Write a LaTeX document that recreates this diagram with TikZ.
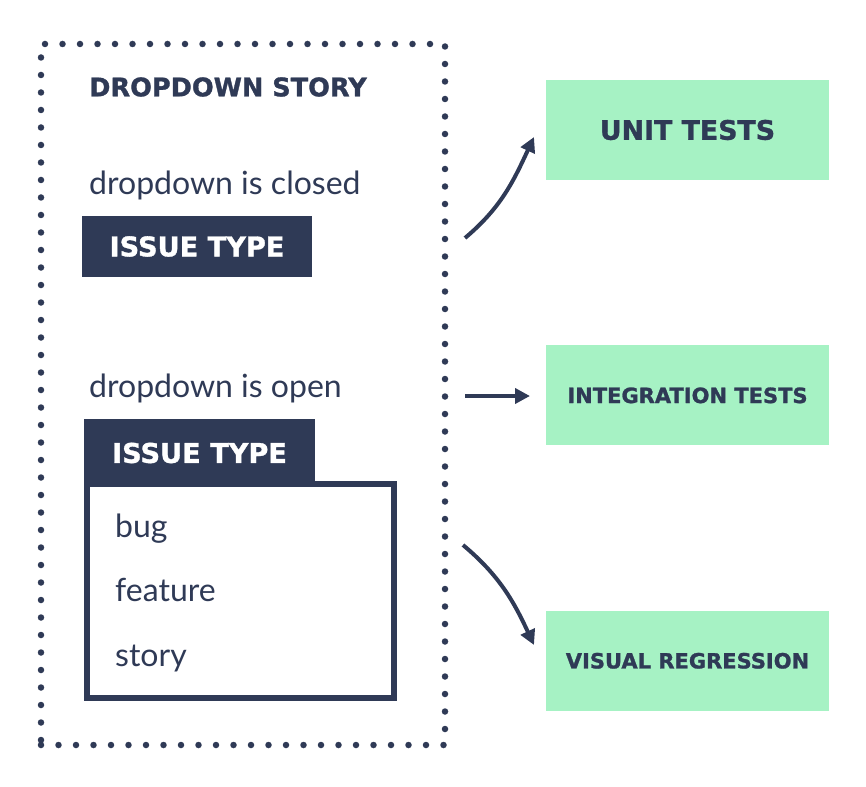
\documentclass[tikz,border=0pt]{standalone}
\usepackage{fontspec}
\setmainfont{Lato}
\newfontfamily\headfont[FakeBold=1.2]{DejaVu Sans Bold}
\usetikzlibrary{arrows.meta}
\usetikzlibrary{positioning}
\definecolor{navy}{RGB}{47,58,86}
\definecolor{mint}{RGB}{166,242,196}

\begin{document}
\begin{tikzpicture}
			[x=1pt,y=-1pt,
			caption/.style={anchor=base west,inner sep=0pt,text=navy,font=\fontsize{32}{36}\selectfont},
			heading/.style={anchor=west,inner sep=0pt,text=navy,font=\headfont\fontsize{25.6}{30}\selectfont},
			select/.style={fill=navy,text=white,inner sep=0pt,font=\headfont\fontsize{27.2}{30}\selectfont},
			test/.style={fill=mint,text=navy,minimum width=283pt,minimum height=100pt,inner sep=0pt},
			flow/.style={navy,line width=4pt,-{Triangle[length=15pt,width=15pt]}}]
			\useasboundingbox (0,0) rectangle (866,786);
			\node[draw=navy,line width=6.5pt,line cap=round,dash pattern=on 0pt off 17.5pt,
				minimum width=404pt,minimum height=701pt] (story) at (243,394.5) {};
			\node[heading] (title) at (89,87) {DROPDOWN STORY};
			\node[caption] (closedtext) at (89,195) {dropdown is closed};
			\node[select,minimum width=230pt,minimum height=61pt] (closed) at (197,246.5) {ISSUE TYPE};
			\node[caption] (opentext) at (89,397) {dropdown is open};
			\node[draw=navy,line width=6pt,minimum width=307pt,minimum height=214pt] (menu) at (240.5,591) {};
			\node[select,minimum width=231pt,minimum height=68pt] (open) at (199.5,453) {ISSUE TYPE};
			\node[caption] (bug) at (115,537) {bug};
			\node[caption] (feature) at (115,601) {feature};
			\node[caption] (storyitem) at (115,666) {story};
			\node[test,font=\headfont\fontsize{26.8}{30}\selectfont] (unit) at (687.5,130) {UNIT TESTS};
			\node[test,font=\headfont\fontsize{21}{24}\selectfont,below=165pt of unit] (integration) {INTEGRATION TESTS};
			\node[test,font=\headfont\fontsize{21}{24}\selectfont,below=165pt of integration] (visual) {VISUAL REGRESSION};
			\coordinate (unitfrom) at (465,238);
			\coordinate (unitto) at (534,137);
			\coordinate (integrationfrom) at (465,396);
			\coordinate (integrationto) at (530,396);
			\coordinate (visualfrom) at (463,545);
			\coordinate (visualto) at (534,645);
			\draw[flow] (unitfrom) to[out=40,in=-115] (unitto);
			\draw[flow] (integrationfrom) -- (integrationto);
			\draw[flow] (visualfrom) to[out=-40,in=115] (visualto);
\end{tikzpicture}
\end{document}
